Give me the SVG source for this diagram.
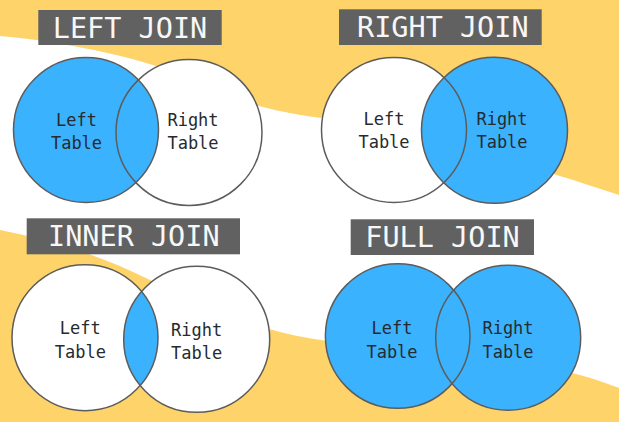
<svg xmlns="http://www.w3.org/2000/svg" width="619" height="422" viewBox="0 0 619 422">
<style>
.title-box{fill:#616161}
.title{font-family:"DejaVu Sans Mono","Liberation Mono",monospace;font-size:28.5px;fill:#f7f7f7;text-anchor:middle}
.lbl{font-family:"DejaVu Sans Mono","Liberation Mono",monospace;font-size:17px;fill:#262b30;text-anchor:middle}
.blue{fill:#3bb2fd}
.white{fill:#ffffff}
.ring{fill:none;stroke:#5c5c5c;stroke-width:1.5}
</style>
<defs>
<clipPath id="ijClip"><circle cx="85" cy="337.7" r="73"/></clipPath>
</defs>
<rect x="0" y="0" width="619" height="422" fill="#fdd36a"/>
<path fill="#ffffff" d="M0,36 C70,42 150,60 200,82 C235,97 250,106 290,113 C305,116 315,117 330,119 C420,135 500,155 619,195 L619,388 C570,368 520,362 450,355 C360,345 320,342 280,332 C240,322 200,305 150,280 C100,255 50,240 0,230 Z"/>
<g id="connectors"/>
<g id="left-join">
<rect class="title-box" x="38.3" y="10" width="183.4" height="35"/>
<text class="title" x="130" y="37.7">LEFT JOIN</text>
<circle class="white" cx="189" cy="132.5" r="73"/>
<circle class="blue" cx="86" cy="130" r="72.5"/>
<circle class="ring" cx="86" cy="130" r="72.5"/>
<circle class="ring" cx="189" cy="132.5" r="73"/>
<text class="lbl" x="76.5" y="126">Left</text>
<text class="lbl" x="76.5" y="149">Table</text>
<text class="lbl" x="193" y="125.5">Right</text>
<text class="lbl" x="193" y="149">Table</text>
</g>
<g id="right-join">
<rect class="title-box" x="339" y="9.3" width="202.7" height="35.7"/>
<text class="title" x="442.8" y="36.5">RIGHT JOIN</text>
<circle class="white" cx="394" cy="130" r="72.5"/>
<circle class="blue" cx="494.5" cy="130.3" r="73"/>
<circle class="ring" cx="394" cy="130" r="72.5"/>
<circle class="ring" cx="494.5" cy="130.3" r="73"/>
<text class="lbl" x="384" y="125">Left</text>
<text class="lbl" x="384" y="148">Table</text>
<text class="lbl" x="502" y="125">Right</text>
<text class="lbl" x="502" y="148">Table</text>
</g>
<g id="inner-join">
<rect class="title-box" x="26.7" y="218.3" width="213.3" height="36"/>
<text class="title" x="133.8" y="246">INNER JOIN</text>
<circle class="white" cx="85" cy="337.7" r="73"/>
<circle class="white" cx="196.7" cy="339.3" r="73"/>
<circle class="blue" cx="196.7" cy="339.3" r="73" clip-path="url(#ijClip)"/>
<circle class="ring" cx="85" cy="337.7" r="73"/>
<circle class="ring" cx="196.7" cy="339.3" r="73"/>
<text class="lbl" x="80.3" y="334.3">Left</text>
<text class="lbl" x="80.3" y="357.7">Table</text>
<text class="lbl" x="196.7" y="336">Right</text>
<text class="lbl" x="196.7" y="359.3">Table</text>
</g>
<g id="full-join">
<rect class="title-box" x="350.7" y="219.3" width="183.3" height="35.7"/>
<text class="title" x="442.5" y="246.7">FULL JOIN</text>
<circle class="blue" cx="397.7" cy="336" r="72.3"/>
<circle class="blue" cx="508.2" cy="337.7" r="72.5"/>
<circle class="ring" cx="397.7" cy="336" r="72.3"/>
<circle class="ring" cx="508.2" cy="337.7" r="72.5"/>
<text class="lbl" x="392" y="333.7">Left</text>
<text class="lbl" x="392" y="357.7">Table</text>
<text class="lbl" x="508" y="334.3">Right</text>
<text class="lbl" x="508" y="358.3">Table</text>
</g>
</svg>
